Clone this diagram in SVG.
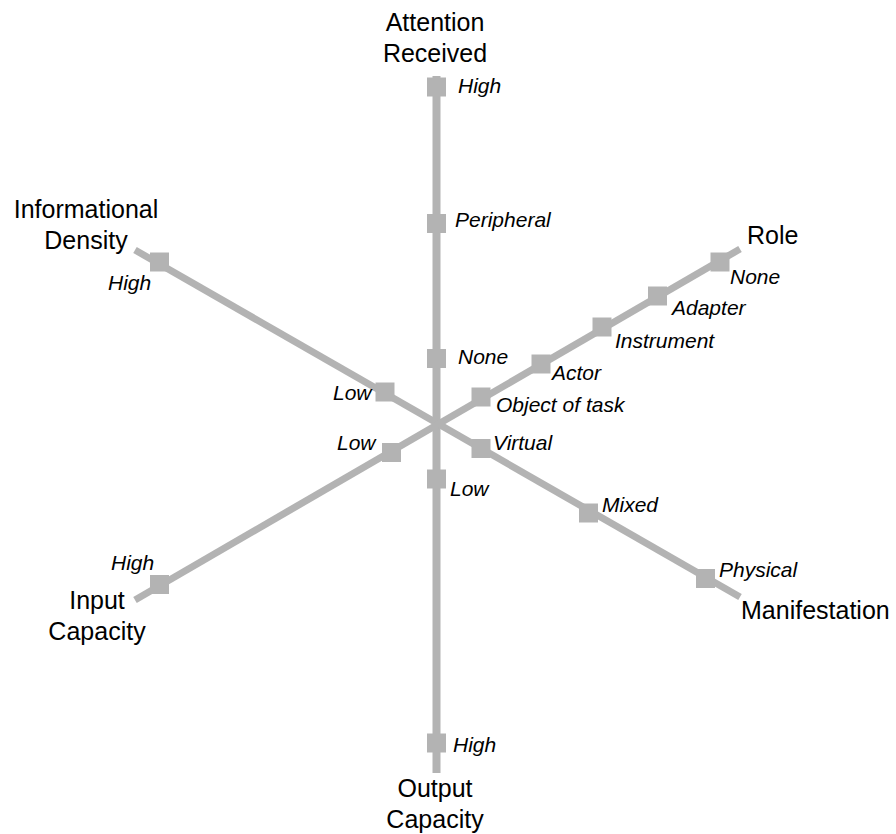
<svg xmlns="http://www.w3.org/2000/svg" width="896" height="834" viewBox="0 0 896 834">
<style>
.ax{stroke:#b3b3b3;fill:none}
.sq{fill:#b3b3b3}
.t{font-family:"Liberation Sans",Arial,sans-serif;font-size:25px;fill:#000}
.m{text-anchor:middle}
.l{font-family:"Liberation Sans",Arial,sans-serif;font-size:21px;font-style:italic;fill:#000}
</style>
<rect width="896" height="834" fill="#fff"/>
<g id="connectors">
<line class="ax" x1="436.5" y1="76" x2="436.5" y2="773" stroke-width="8"/>
<line class="ax" x1="135" y1="250" x2="740" y2="597" stroke-width="7"/>
<line class="ax" x1="135" y1="600" x2="740" y2="249" stroke-width="7"/>
</g>
<g id="axis-attention"><text class="t m" x="435" y="31">Attention</text><text class="t m" x="435" y="62">Received</text></g>
<g id="axis-density"><text class="t m" x="86" y="218">Informational</text><text class="t m" x="86" y="249">Density</text></g>
<g id="axis-role"><text class="t" x="747" y="244">Role</text></g>
<g id="axis-input"><text class="t m" x="97" y="609">Input</text><text class="t m" x="97" y="640">Capacity</text></g>
<g id="axis-manifestation"><text class="t" x="741" y="619">Manifestation</text></g>
<g id="axis-output"><text class="t m" x="435" y="797">Output</text><text class="t m" x="435" y="828">Capacity</text></g>

<g id="att-high"><rect class="sq" x="427" y="77.5" width="19" height="19"/><text class="l" x="458" y="93">High</text></g>
<g id="att-peripheral"><rect class="sq" x="427" y="214" width="19" height="19"/><text class="l" x="455" y="227">Peripheral</text></g>
<g id="att-none"><rect class="sq" x="427" y="349" width="19" height="19"/><text class="l" x="458" y="364">None</text></g>
<g id="out-low"><rect class="sq" x="427" y="469.5" width="19" height="19"/><text class="l" x="450" y="496">Low</text></g>
<g id="out-high"><rect class="sq" x="427" y="733.5" width="19" height="19"/><text class="l" x="453" y="752">High</text></g>

<g id="den-high"><rect class="sq" x="150" y="252.5" width="19" height="19"/><text class="l" x="108" y="290">High</text></g>
<g id="den-low"><rect class="sq" x="375.5" y="382.5" width="19" height="19"/><text class="l" x="333" y="400">Low</text></g>
<g id="man-virtual"><rect class="sq" x="471.5" y="439" width="19" height="19"/><text class="l" x="493" y="450">Virtual</text></g>
<g id="man-mixed"><rect class="sq" x="579" y="503.5" width="19" height="19"/><text class="l" x="602" y="512">Mixed</text></g>
<g id="man-physical"><rect class="sq" x="696" y="569" width="19" height="19"/><text class="l" x="719" y="577">Physical</text></g>

<g id="in-high"><rect class="sq" x="150" y="575" width="19" height="19"/><text class="l" x="111" y="570">High</text></g>
<g id="in-low"><rect class="sq" x="382" y="443" width="19" height="19"/><text class="l" x="337" y="450">Low</text></g>
<g id="role-object"><rect class="sq" x="471.5" y="387.5" width="19" height="19"/><text class="l" x="496" y="412">Object of task</text></g>
<g id="role-actor"><rect class="sq" x="531.5" y="354.5" width="19" height="19"/><text class="l" x="552" y="380">Actor</text></g>
<g id="role-instrument"><rect class="sq" x="592.5" y="317.5" width="19" height="19"/><text class="l" x="615" y="348">Instrument</text></g>
<g id="role-adapter"><rect class="sq" x="648" y="286.5" width="19" height="19"/><text class="l" x="672" y="315">Adapter</text></g>
<g id="role-none"><rect class="sq" x="710.5" y="252.5" width="19" height="19"/><text class="l" x="730" y="284">None</text></g>
</svg>
